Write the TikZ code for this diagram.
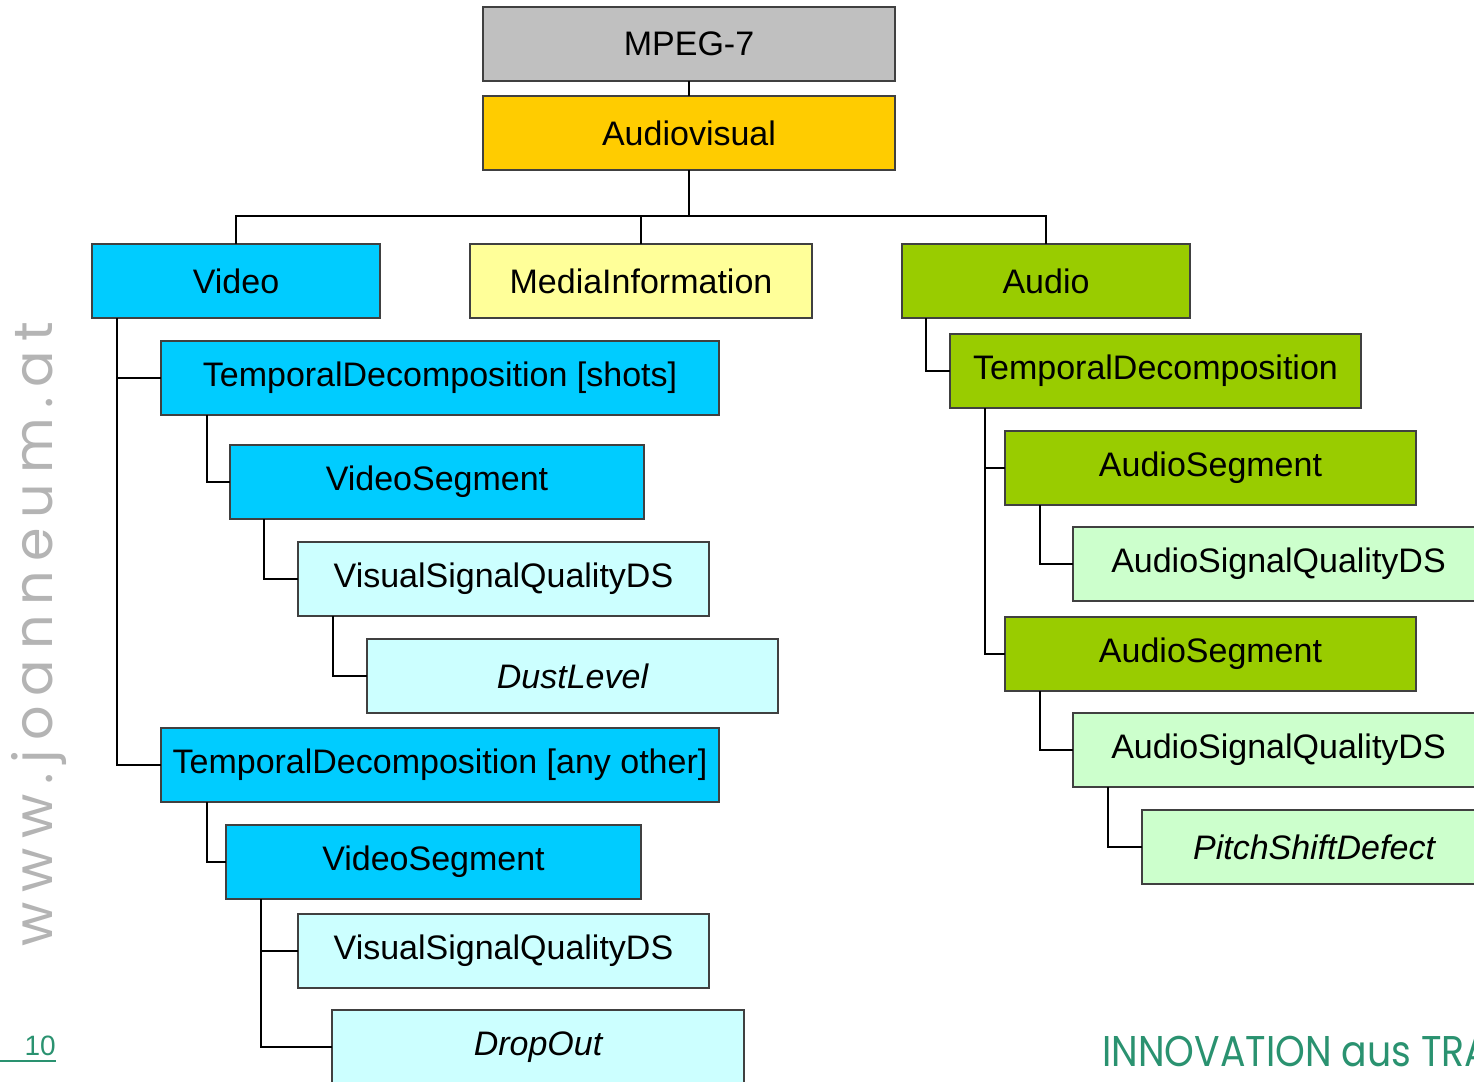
\documentclass[tikz,border=0pt]{standalone}
\usepackage{fontspec}
\setmainfont{Liberation Sans}
\newfontfamily\logofont{Poppins}
\usetikzlibrary{positioning}
\definecolor{mpeggray}{HTML}{C0C0C0}
\definecolor{avyellow}{HTML}{FFCC00}
\definecolor{videoblue}{HTML}{00CCFF}
\definecolor{mediayellow}{HTML}{FFFF99}
\definecolor{audiogreen}{HTML}{99CC00}
\definecolor{visualcyan}{HTML}{CCFFFF}
\definecolor{audiolight}{HTML}{CCFFCC}
\definecolor{jrgreen}{HTML}{2A9270}
\definecolor{urlgray}{HTML}{B4B4B4}
\tikzset{%
	box/.style={draw=black!75,line width=1.1pt,inner sep=0pt,outer sep=0pt,anchor=north west,minimum height=74pt,font=\fontsize{34}{40}\selectfont},
	leaf/.style={box,font=\fontsize{34}{40}\selectfont\itshape},
	link/.style={black,line width=1.6pt},
}

\begin{document}
\begin{tikzpicture}[x=1pt,y=-1pt]
	\path[use as bounding box,clip] (0,0) rectangle (1474,1081);
	% top
	\node[box,fill=mpeggray,minimum width=412pt] (mpeg) at (483,7) {MPEG-7};
	\node[box,fill=avyellow,minimum width=412pt] (av) at (483,96) {Audiovisual};
	\node[box,fill=videoblue,minimum width=288pt] (video) at (92,244) {Video};
	\node[box,fill=mediayellow,minimum width=342pt] (media) at (470,244) {MediaInformation};
	\node[box,fill=audiogreen,minimum width=288pt] (audio) at (902,244) {Audio};
	% video branch
	\node[box,fill=videoblue,minimum width=558pt] (tdshots) at (161,341) {TemporalDecomposition [shots]};
	\node[box,fill=videoblue,minimum width=414pt] (vsega) at (230,445) {VideoSegment};
	\node[box,fill=visualcyan,minimum width=411pt] (vsqa) at (298,542) {VisualSignalQualityDS};
	\node[leaf,fill=visualcyan,minimum width=411pt] (dust) at (367,639) {DustLevel};
	\node[box,fill=videoblue,minimum width=558pt] (tdother) at (161,728) {TemporalDecomposition [any other]};
	\node[box,fill=videoblue,minimum width=415pt] (vsegb) at (226,825) {VideoSegment};
	\node[box,fill=visualcyan,minimum width=411pt] (vsqb) at (298,914) {VisualSignalQualityDS};
	\node[leaf,fill=visualcyan,minimum width=412pt] (dropout) at (332,1010) {DropOut};
	% audio branch
	\node[box,fill=audiogreen,minimum width=411pt] (tdaudio) at (950,334) {TemporalDecomposition};
	\node[box,fill=audiogreen,minimum width=411pt] (asega) at (1005,431) {AudioSegment};
	\node[box,fill=audiolight,minimum width=411pt] (asqa) at (1073,527) {AudioSignalQualityDS};
	\node[box,fill=audiogreen,minimum width=411pt] (asegb) at (1005,617) {AudioSegment};
	\node[box,fill=audiolight,minimum width=411pt] (asqb) at (1073,713) {AudioSignalQualityDS};
	\node[leaf,fill=audiolight,minimum width=344pt] (pitch) at (1142,810) {PitchShiftDefect};
	% connectors
	\draw[link] (mpeg) -- (av);
	\draw[link] (av.south) -- ++(0,46) coordinate (hub);
	\draw[link] (video.north) |- (hub);
	\draw[link] (audio.north) |- (hub);
	\draw[link] (media.north) |- (hub);
	\draw[link] ([xshift=25pt]video.south west) |- (tdshots.west);
	\draw[link] ([xshift=25pt]video.south west) |- (tdother.west);
	\draw[link] ([xshift=46pt]tdshots.south west) |- (vsega.west);
	\draw[link] ([xshift=34pt]vsega.south west) |- (vsqa.west);
	\draw[link] ([xshift=35pt]vsqa.south west) |- (dust.west);
	\draw[link] ([xshift=46pt]tdother.south west) |- (vsegb.west);
	\draw[link] ([xshift=35pt]vsegb.south west) |- (vsqb.west);
	\draw[link] ([xshift=35pt]vsegb.south west) |- (dropout.west);
	\draw[link] ([xshift=24pt]audio.south west) |- (tdaudio.west);
	\draw[link] ([xshift=35pt]tdaudio.south west) |- (asega.west);
	\draw[link] ([xshift=35pt]tdaudio.south west) |- (asegb.west);
	\draw[link] ([xshift=35pt]asega.south west) |- (asqa.west);
	\draw[link] ([xshift=35pt]asegb.south west) |- (asqb.west);
	\draw[link] ([xshift=35pt]asqb.south west) |- (pitch.west);
	% slide decoration
	\node[rotate=90,text=urlgray,font=\logofont\fontsize{54}{60}\selectfont\addfontfeature{LetterSpace=18},inner sep=0pt] (url) at (39,634) {www.joanneum.at};
	\node[text=jrgreen,font=\fontsize{28}{32}\selectfont,anchor=south east,inner sep=0pt] (pagenum) at (56,1056) {10};
	\coordinate (ruleend) at (56,1061);
	\draw[jrgreen,line width=1.5pt] (0,1061) -- (ruleend);
	\node[text=jrgreen,font=\logofont\fontsize{43}{48}\selectfont,anchor=base west,inner sep=0pt,xscale=0.88] (slogan) at (1102,1066) {INNOVATION aus TRANSFER};
\end{tikzpicture}
\end{document}
